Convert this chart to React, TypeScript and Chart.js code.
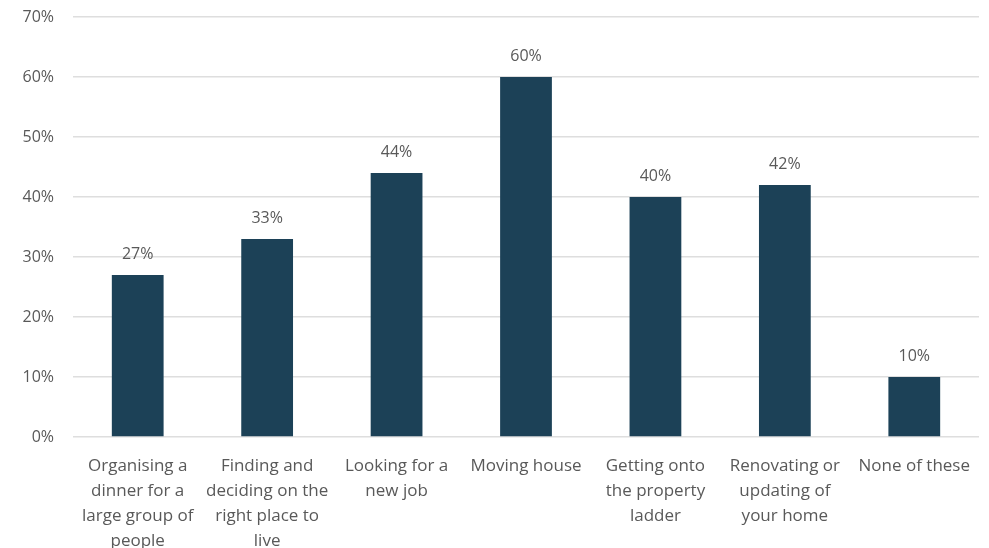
import React, { useEffect, useRef } from "react";
import { Chart, registerables } from "chart.js";

Chart.register(...registerables);

const categories: string[][] = [
  ["Organising a", "dinner for a", "large group of", "people"],
  ["Finding and", "deciding on the", "right place to", "live"],
  ["Looking for a", "new job"],
  ["Moving house"],
  ["Getting onto", "the property", "ladder"],
  ["Renovating or", "updating of", "your home"],
  ["None of these"],
];
const values: number[] = [27, 33, 44, 60, 40, 42, 10];
const yTicks: number[] = [0, 10, 20, 30, 40, 50, 60, 70];

const FONT = "'Open Sans', 'Noto Sans', sans-serif";
const TEXT = "#595959";

const labelPlugin = {
  id: "barLabels",
  afterDatasetsDraw(chart: any) {
    const ctx = chart.ctx;
    const meta = chart.getDatasetMeta(0);
    ctx.save();
    ctx.font = `16px ${FONT}`;
    ctx.fillStyle = TEXT;
    ctx.textAlign = "center";
    ctx.textBaseline = "middle";
    meta.data.forEach((bar: any, i: number) => {
      ctx.fillText(`${values[i]}%`, bar.x, bar.y - 21);
    });
    ctx.restore();
  },
};

export default function App() {
  const ref = useRef<HTMLCanvasElement>(null);
  useEffect(() => {
    document.body.style.margin = "0";
    const chart = new Chart(ref.current!, {
      type: "bar",
      data: {
        labels: categories,
        datasets: [
          {
            data: values,
            backgroundColor: "#1c4157",
            barPercentage: 0.4,
            categoryPercentage: 1,
          },
        ],
      },
      options: {
        animation: false,
        responsive: false,
        maintainAspectRatio: false,
        layout: { padding: { top: 17, right: 10, left: 0, bottom: 0 } },
        plugins: { legend: { display: false }, tooltip: { enabled: false } },
        scales: {
          x: {
            grid: { display: false, drawTicks: false },
            border: { display: false },
            ticks: {
              color: TEXT,
              font: { family: FONT, size: 17, lineHeight: 1.47 },
              padding: 17,
              maxRotation: 0,
              autoSkip: false,
            },
            afterFit: (s: any) => {
              s.height = 111;
              s.paddingLeft = 0;
              s.paddingRight = 0;
            },
          },
          y: {
            min: 0,
            max: 70,
            afterBuildTicks: (s: any) => {
              s.ticks = yTicks.map((v) => ({ value: v }));
            },
            grid: { color: "#dedede", lineWidth: 1.5, drawTicks: false },
            border: { display: false },
            ticks: {
              color: TEXT,
              font: { family: FONT, size: 16 },
              padding: 19,
              callback: (v: any) => `${v}%`,
            },
            afterFit: (s: any) => {
              s.width = 73;
              s.paddingTop = 0;
              s.paddingBottom = 0;
            },
          },
        },
      },
      plugins: [labelPlugin],
    });
    return () => chart.destroy();
  }, []);
  return (
    <div style={{ position: "absolute", left: 0, top: 0, width: 989, height: 548, background: "#fff" }}>
      <canvas ref={ref} width={989} height={548} />
    </div>
  );
}
